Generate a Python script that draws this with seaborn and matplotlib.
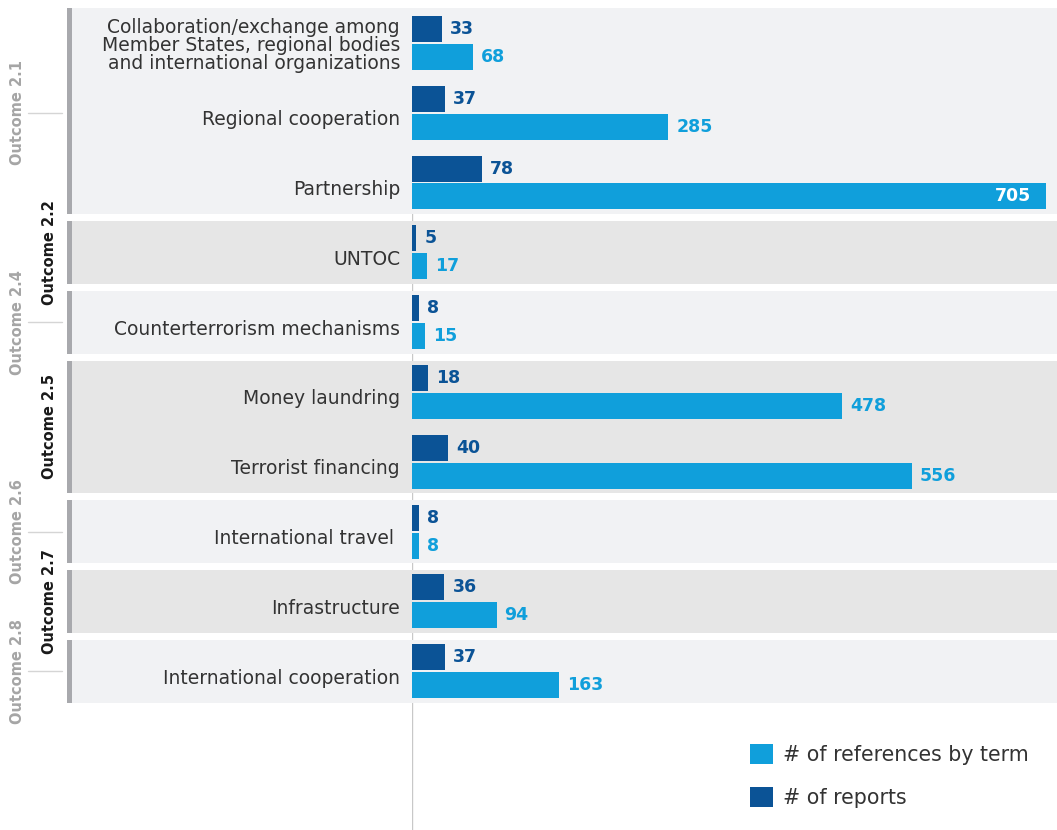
import numpy as np
import pandas as pd
import matplotlib
matplotlib.use("Agg")
import matplotlib.pyplot as plt
import seaborn as sns
from matplotlib.patches import Rectangle, Patch
from matplotlib.transforms import blended_transform_factory, ScaledTranslation

# ---- data ----
categories = [
    "Collaboration/exchange among\nMember States, regional bodies\nand international organizations",
    "Regional cooperation",
    "Partnership",
    "UNTOC",
    "Counterterrorism mechanisms",
    "Money laundring",
    "Terrorist financing",
    "International travel ",
    "Infrastructure",
    "International cooperation",
]
reports = [33, 37, 78, 5, 8, 18, 40, 8, 36, 37]
references = [68, 285, 705, 17, 15, 478, 556, 8, 94, 163]
series_names = ["# of reports", "# of references by term"]
outcomes = ["Outcome 2.1", "Outcome 2.2", "Outcome 2.4", "Outcome 2.5",
            "Outcome 2.6", "Outcome 2.7", "Outcome 2.8"]
outcome_rows = [(0, 2), (3, 3), (4, 4), (5, 6), (7, 7), (8, 8), (9, 9)]

DARK = "#0b5396"
LIGHT = "#109fdb"
BAND_LIGHT = "#f1f2f4"
BAND_DARK = "#e6e6e6"
BAR_GRAY = "#a8a9ad"
TEXT = "#333333"

df = pd.DataFrame({
    "category": categories * 2,
    "series": [series_names[0]] * len(categories) + [series_names[1]] * len(categories),
    "value": reports + references,
})

sns.set_theme(style="white")
plt.rcParams["font.family"] = ["DejaVu Sans"]

W, H = 1057, 830
fig = plt.figure(figsize=(W / 100, H / 100), dpi=100)
ax = fig.add_axes([412 / W, 0, 1 - 412 / W, 1 - 8 / H])

sns.barplot(data=df, y="category", x="value", hue="series", hue_order=series_names,
            order=categories, palette=[DARK, LIGHT], orient="h", width=0.8, gap=0.07,
            legend=False, ax=ax, zorder=3, saturation=1, linewidth=0, edgecolor="none")

xmax_px = 1057 - 412
scale = 705 / (1046 - 412)
ax.set_xlim(0, xmax_px * scale)
ax.set_ylim(11.275, -0.5)

# bands
tr = blended_transform_factory(ax.transAxes, ax.transData)
x0 = (68 - 412) / xmax_px
for i, (r0, r1) in enumerate(outcome_rows):
    top = r0 - 0.45 if r0 > 0 else -0.5
    bot = r1 + 0.45
    ax.add_patch(Rectangle((x0, top), 1 - x0, bot - top, transform=tr,
                           facecolor=BAND_LIGHT if i % 2 == 0 else BAND_DARK,
                           edgecolor="none", clip_on=False, zorder=0.5))
    ax.add_patch(Rectangle((x0 - 0.001, top), 5 / xmax_px, bot - top, transform=tr,
                           facecolor=BAR_GRAY, edgecolor="none", clip_on=False, zorder=0.6))

ax.axvline(0, color="#c8c8c8", lw=1, zorder=0.3)

# value labels
for ci, cont in enumerate(ax.containers):
    col = DARK if ci == 0 else LIGHT
    for patch in cont:
        w = patch.get_width()
        yc = patch.get_y() + patch.get_height() / 2
        if w >= 700:
            ax.annotate(f"{int(round(w))}", (w, yc), xytext=(-11, 0), textcoords="offset points",
                        ha="right", va="center", color="white", fontsize=12.5,
                        fontweight="bold", zorder=5)
        else:
            ax.annotate(f"{int(round(w))}", (w, yc), xytext=(5.8, 0), textcoords="offset points",
                        ha="left", va="center", color=col, fontsize=12.5,
                        fontweight="bold", zorder=5)

# axes styling
for s in ax.spines.values():
    s.set_visible(False)
ax.set_xticks([])
ax.set_xlabel("")
ax.set_ylabel("")
ax.set_yticks(range(len(categories)))
ax.set_yticklabels(categories, fontsize=13.5, color=TEXT, linespacing=0.95)
ax.tick_params(axis="y", length=0, pad=8.6)
ax.patch.set_alpha(0)
for lab in ax.get_yticklabels():
    dy = 1 if "\n" in lab.get_text() else 5
    lab.set_transform(lab.get_transform() + ScaledTranslation(0, -dy / 100, fig.dpi_scale_trans))

# outcome labels
ftr = blended_transform_factory(fig.transFigure, ax.transData)
for i, ((r0, r1), name) in enumerate(zip(outcome_rows, outcomes)):
    yc = (r0 + r1) / 2
    if i % 2 == 0:
        fig.text(18 / W, yc, name, transform=ftr, rotation=90, ha="center", va="center",
                 color="#a5a5a5", fontsize=10.5, fontweight="bold")
        fig.add_artist(plt.Line2D([28 / W, 62 / W], [yc, yc], transform=ftr,
                                  color="#d5d5d5", lw=1))
    else:
        fig.text(50 / W, yc, name, transform=ftr, rotation=90, ha="center", va="center",
                 color="#1a1a1a", fontsize=10.5, fontweight="bold")

# legend
handles = [Patch(facecolor=LIGHT, edgecolor="none"), Patch(facecolor=DARK, edgecolor="none")]
fig.legend(handles, [series_names[1], series_names[0]], loc="upper left",
           bbox_to_anchor=(750 / W, 1 - 744 / H), frameon=False, fontsize=14.8,
           handlelength=1.12, handleheight=1.12, handletextpad=0.5, labelspacing=1.05,
           borderpad=0, borderaxespad=0, labelcolor=TEXT)

fig.savefig("out.png", dpi=100)
